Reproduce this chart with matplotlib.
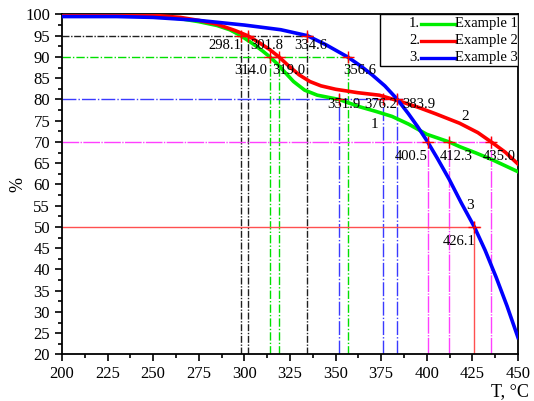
import matplotlib

matplotlib.use("Agg")

import matplotlib.pyplot as plt
from matplotlib.lines import Line2D
from matplotlib.patches import Rectangle
from matplotlib.ticker import MultipleLocator

plt.rcParams["font.family"] = ["Liberation Serif", "DejaVu Serif"]

# curve readings (T in degC, mass %)
t1 = [200, 230, 250, 265, 275, 285, 292, 298.1, 305, 310, 314, 318, 322, 327, 333, 340, 351.9, 363,
      372, 381, 390, 400, 412.3, 418, 427, 436, 443, 450]
y1 = [100, 100, 99.6, 99.0, 98.3, 97.4, 96.4, 95.0, 93.0, 91.4, 90.0, 88.4, 86.5, 84.2, 82.2, 81.0, 80.0, 78.3,
      77.2, 76.0, 74.2, 71.8, 70.0, 68.9, 67.4, 65.8, 64.4, 63.0]

t2 = [200, 230, 250, 265, 275, 285, 295, 301.8, 308, 314, 319, 324, 330, 336, 342, 350, 362, 374, 385,
      395, 405, 418, 428, 436, 443, 450]
y2 = [100, 100, 99.8, 99.3, 98.6, 97.7, 96.2, 95.0, 93.4, 91.7, 90.0, 88.0, 85.8, 84.2, 83.2, 82.4, 81.6, 81.0, 79.6,
      78.2, 76.6, 74.4, 72.2, 69.8, 67.6, 64.8]

t3 = [200, 230, 250, 275, 300, 320, 334.6, 345, 356.6, 364, 370, 377, 383.9, 390, 395, 400.5, 406, 412.3,
      419, 426.1, 432, 438, 444, 450]
y3 = [99.5, 99.5, 99.3, 98.6, 97.5, 96.4, 95.0, 92.8, 90.0, 87.8, 85.8, 83.2, 80.0, 76.6, 73.6, 70.0, 66.0, 61.2,
      55.6, 50.0, 44.5, 38.2, 31.4, 24.0]

levels = [95, 90, 80, 70, 50]
level_temps = [[298.1, 301.8, 334.6], [314.0, 319.0, 356.6], [351.9, 376.2, 383.9],
               [400.5, 412.3, 435.0], [426.1]]
level_colors = ["#202020", "#00e000", "#3a3aff", "#ff40ff", "#ff5050"]
level_styles = [(0, (5, 1.2, 1, 1.2)), (0, (6, 1.5, 1, 1.5)), (0, (10, 1.5, 1, 1.5)),
                (0, (12, 1, 1, 1)), "-"]
level_labels = ["298.1", "301.8", "334.6", "314.0", "319.0", "356.6", "351.9", "376.2", "383.9",
                "400.5", "412.3", "435.0", "426.1"]
# label placement: (dx in degC, alignment), dy per level in %
label_place = [(0.5, "right"), (1.5, "left"), (2.0, "center"),
               (-1.5, "right"), (-3.5, "left"), (-2.5, "left"),
               (-6.5, "left"), (-1.5, "center"), (2.5, "left"),
               (0.0, "right"), (4.0, "center"), (5.0, "center"),
               (0.5, "right")]
label_dy = [-2.3, -3.1, -1.3, -3.5, -3.5]

fig = plt.figure(figsize=(5.34, 4.01), dpi=100)
ax = fig.add_axes([0.116, 0.116, 0.854, 0.848])

for lev, temps, col, ls in zip(levels, level_temps, level_colors, level_styles):
    ax.plot([200, max(temps) + 3], [lev, lev], color=col, lw=1.0, ls=ls, zorder=1)
    for t in temps:
        ax.plot([t, t], [20, lev + 1.2], color=col, lw=1.0, ls=ls, zorder=1)

ax.plot(t1, y1, color="#00ee00", lw=2.6, zorder=3)
ax.plot(t2, y2, color="#ff0000", lw=2.6, zorder=4)
ax.plot(t3, y3, color="#0000ff", lw=2.6, zorder=5)

i = 0
for lev, temps, dy in zip(levels, level_temps, label_dy):
    for t in temps:
        ax.plot(t, lev, marker="+", color="#ff0000", ms=9, mew=1.0, zorder=6)
        dx, ha = label_place[i]
        ax.text(t + dx, lev + dy, level_labels[i], ha=ha, va="center", fontsize=10.5, zorder=7)
        i += 1

ax.text(371.5, 74.0, "1", fontsize=11, ha="center", va="center")
ax.text(421, 76.0, "2", fontsize=11, ha="center", va="center")
ax.text(423.5, 55.0, "3", fontsize=11, ha="center", va="center")

ax.set_xlim(200, 450)
ax.set_ylim(20, 100)
ax.xaxis.set_major_locator(MultipleLocator(25))
ax.xaxis.set_minor_locator(MultipleLocator(12.5))
ax.yaxis.set_major_locator(MultipleLocator(5))
ax.yaxis.set_minor_locator(MultipleLocator(2.5))
ax.tick_params(which="both", direction="out", top=False, right=False, labelsize=12, width=1.2)
ax.tick_params(which="major", length=5)
ax.tick_params(which="minor", length=3)
for sp in ax.spines.values():
    sp.set_linewidth(1.3)

ax.text(-0.097, 0.5, "%", rotation=90, fontsize=13, ha="center", va="center", transform=ax.transAxes)
fig.text(0.99, 0.002, "T, °C", fontsize=13, ha="right", va="bottom")

# legend box
ax.add_patch(Rectangle((0.697, 0.849), 0.303, 0.151, transform=ax.transAxes, fill=True,
                       facecolor="white", edgecolor="black", lw=1.0, zorder=8))
names = ["Example 1", "Example 2", "Example 3"]
cols = ["#00ee00", "#ff0000", "#0000ff"]
for k, (nm, c) in enumerate(zip(names, cols)):
    yy = 0.972 - k * 0.05
    ax.text(0.785, yy, f"{k + 1}.", fontsize=10.5, ha="right", va="center", transform=ax.transAxes, zorder=9)
    ax.add_line(Line2D([0.787, 0.862], [yy, yy], color=c, lw=2.4, transform=ax.transAxes, zorder=9))
    ax.text(0.862, yy, nm, fontsize=10.5, ha="left", va="center", transform=ax.transAxes, zorder=9)

fig.savefig("out.png", dpi=100)
